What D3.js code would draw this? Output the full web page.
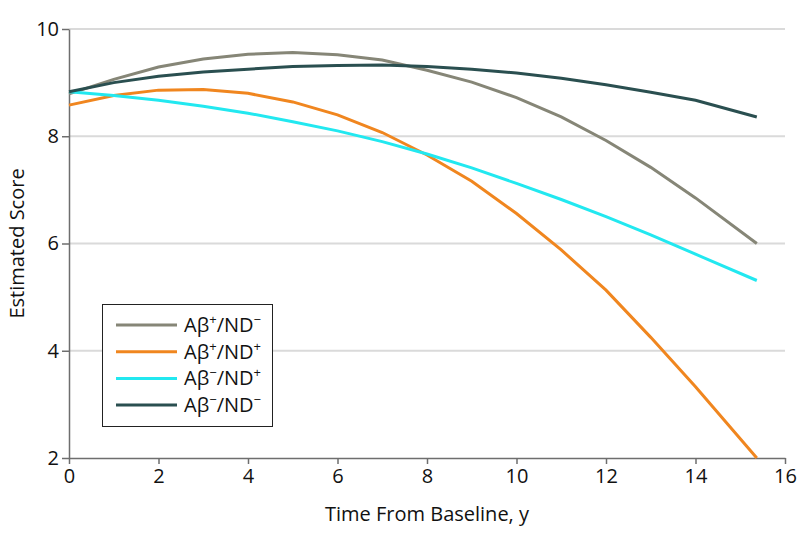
<!DOCTYPE html>
<html><head><meta charset="utf-8">
<script src="https://cdn.jsdelivr.net/npm/d3@7"></script>
<style>
body{margin:0;background:#fff;}
text{font-family:"Open Sans",sans-serif;fill:#111;}
</style></head>
<body><svg id="chart" width="798" height="543"></svg>
<script>
const years = [0,1,2,3,4,5,6,7,8,9,10,11,12,13,14,15.37];
const abPosNdNeg = [8.79,9.06,9.29,9.44,9.53,9.56,9.52,9.42,9.23,9.01,8.72,8.36,7.92,7.42,6.85,6.0];
const abPosNdPos = [8.58,8.76,8.86,8.87,8.80,8.64,8.40,8.07,7.65,7.16,6.56,5.88,5.13,4.25,3.33,2.0];
const abNegNdPos = [8.83,8.76,8.67,8.56,8.43,8.27,8.10,7.90,7.67,7.41,7.12,6.82,6.50,6.16,5.80,5.31];
const abNegNdNeg = [8.83,9.00,9.12,9.20,9.25,9.30,9.32,9.33,9.30,9.25,9.18,9.08,8.96,8.82,8.67,8.36];
const seriesNames = [["Aβ","+","/ND","−"],["Aβ","+","/ND","+"],["Aβ","−","/ND","+"],["Aβ","−","/ND","−"]];
const seriesColors = ["#868677","#f0861f","#22e8f0","#2a4f50"];
const xTicks = [0,2,4,6,8,10,12,14,16];
const yTicks = [2,4,6,8,10];

const allSeries = [abPosNdNeg, abPosNdPos, abNegNdPos, abNegNdNeg];
const svg = d3.select("#chart");
const x = d3.scaleLinear().domain([0,16]).range([69,785]);
const y = d3.scaleLinear().domain([2,10]).range([458,29]);

// gridlines
svg.append("g").selectAll("line").data(yTicks.filter(d=>d>2)).join("line")
  .attr("x1",x(0)).attr("x2",x(16)).attr("y1",d=>y(d)).attr("y2",d=>y(d))
  .attr("stroke","#dadada").attr("stroke-width",2);

// axes
const xAxis = svg.append("g").attr("transform",`translate(0,${y(2)})`)
  .call(d3.axisBottom(x).tickValues(xTicks).tickSize(6).tickPadding(5).tickSizeOuter(0));
const yAxis = svg.append("g").attr("transform",`translate(${x(0)},0)`)
  .call(d3.axisLeft(y).tickValues(yTicks).tickSize(7).tickPadding(3).tickSizeOuter(0));
[xAxis,yAxis].forEach(a=>{
  a.attr("font-size",20).attr("font-family","Open Sans");
  a.select(".domain").attr("stroke","#6e6e6e").attr("stroke-width",1.5);
  a.selectAll(".tick line").attr("stroke","#6e6e6e").attr("stroke-width",1.5);
  a.selectAll(".tick text").attr("fill","#111");
});

// lines
const line = d3.line().x((d,i)=>x(years[i])).y(d=>y(d));
svg.append("g").selectAll("path").data(allSeries).join("path")
  .attr("d",line).attr("fill","none")
  .attr("stroke",(d,i)=>seriesColors[i]).attr("stroke-width",3);

// axis titles
svg.append("text").attr("x",(x(0)+x(16))/2).attr("y",521).attr("text-anchor","middle")
  .attr("font-size",20).text("Time From Baseline, y");
svg.append("text").attr("transform",`translate(24,${(y(2)+y(10))/2}) rotate(-90)`)
  .attr("text-anchor","middle").attr("font-size",20).text("Estimated Score");

// legend
const lg = svg.append("g");
lg.append("rect").attr("x",102.5).attr("y",304.5).attr("width",170).attr("height",122)
  .attr("fill","#fff").attr("stroke","#222").attr("stroke-width",1);
const items = lg.selectAll("g.item").data(seriesNames).join("g")
  .attr("transform",(d,i)=>`translate(0,${325+i*26.7})`);
items.append("line").attr("x1",116).attr("x2",177).attr("y1",0).attr("y2",0)
  .attr("stroke",(d,i)=>seriesColors[i]).attr("stroke-width",3);
const t = items.append("text").attr("x",184).attr("y",7).attr("font-size",20);
t.each(function(d){
  const el = d3.select(this);
  el.append("tspan").text(d[0]);
  el.append("tspan").attr("dy",-8).attr("font-size",13).text(d[1]);
  el.append("tspan").attr("dy",8).text(d[2]);
  el.append("tspan").attr("dy",-8).attr("font-size",13).text(d[3]);
});
</script></body></html>
